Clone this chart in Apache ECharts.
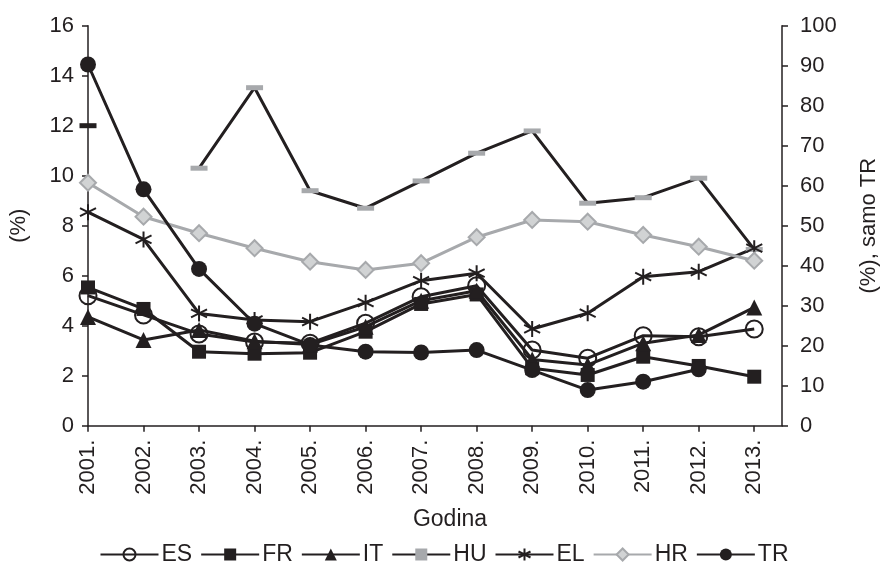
<!DOCTYPE html>
<html><head><meta charset="utf-8">
<script src="https://cdn.jsdelivr.net/npm/echarts@6/dist/echarts.min.js"></script>
<style>html,body{margin:0;padding:0;background:#fff}#c{width:888px;height:572px}</style>
</head><body><div id="c"></div>
<script>
var years = [2001,2002,2003,2004,2005,2006,2007,2008,2009,2010,2011,2012,2013];
var ES = [5.2, 4.43, 3.67, 3.35, 3.3, 4.1, 5.16, 5.6, 3.03, 2.7, 3.6, 3.56, 3.87];
var FR = [5.53, 4.67, 2.96, 2.88, 2.92, 3.76, 4.87, 5.25, 2.3, 2.03, 2.76, 2.39, 1.96];
var IT = [4.35, 3.43, 3.83, 3.38, 3.25, 3.96, 5.0, 5.4, 2.65, 2.43, 3.3, 3.63, 4.73];
var HU = [12.0, null, 10.3, 13.52, 9.4, 8.7, 9.79, 10.9, 11.79, 8.9, 9.12, 9.9, 7.05];
var EL = [8.54, 7.45, 4.49, 4.23, 4.16, 4.92, 5.8, 6.1, 3.87, 4.5, 5.96, 6.16, 7.1];
var HR = [9.72, 8.36, 7.7, 7.1, 6.56, 6.23, 6.5, 7.54, 8.23, 8.16, 7.63, 7.16, 6.6];
var TR = [90.3, 59.1, 39.2, 25.5, 20.2, 18.5, 18.3, 18.9, 13.9, 8.9, 11.0, 14.1, null];
var leftTicks = [0,2,4,6,8,10,12,14,16];
var rightTicks = [0,10,20,30,40,50,60,70,80,90,100];

var INK = '#231f20', GREY = '#a7a9ac', LGREY = '#d1d3d4';
var FONT = '"Liberation Sans", Arial, sans-serif';
function pairs(arr){ return years.map(function(y,i){ return [y, arr[i]]; }); }
var star = 'path://M0,-10L0,10M-8.66,-5L8.66,5M-8.66,5L8.66,-5';

function mk(name, arr, o){
  var s = {
    name: name, type: 'line', data: pairs(arr), yAxisIndex: 0,
    symbolSize: 14, showAllSymbol: true, connectNulls: false,
    lineStyle: {color: INK, width: 3},
    itemStyle: {color: INK, borderColor: INK, borderWidth: 0},
    emphasis: {disabled: true}, animation: false
  };
  for (var k in o) s[k] = o[k];
  return s;
}
var huData = pairs(HU);
huData[0] = {value: huData[0], itemStyle: {color: INK}};

var series = [
  mk('ES', ES, {symbol: 'circle', symbolSize: 17, itemStyle: {color: 'rgba(255,255,255,0)', borderColor: INK, borderWidth: 2}}),
  mk('FR', FR, {symbol: 'rect', symbolSize: 14}),
  mk('IT', IT, {symbol: 'triangle', symbolSize: 16}),
  mk('HU', HU, {symbol: 'rect', symbolSize: [17, 5], itemStyle: {color: GREY}}),
  mk('EL', EL, {symbol: star, symbolSize: 16, itemStyle: {color: INK, borderColor: INK, borderWidth: 2}}),
  mk('HR', HR, {symbol: 'diamond', symbolSize: 16, lineStyle: {color: GREY, width: 3}, itemStyle: {color: LGREY, borderColor: GREY, borderWidth: 2}}),
  mk('TR', TR, {symbol: 'circle', symbolSize: 16, yAxisIndex: 1})
];
series[3].data = huData;

var chart = echarts.init(document.getElementById('c'));
chart.setOption({
  backgroundColor: '#fff',
  textStyle: {fontFamily: FONT},
  grid: {left: 84, right: 94, top: 25.7, bottom: 146.3, containLabel: false},
  xAxis: {
    type: 'value', min: 2001, max: 2013.5, interval: 1,
    name: 'Godina', nameLocation: 'middle', nameGap: 82,
    nameTextStyle: {fontSize: 23, color: INK, fontFamily: FONT, padding: [0,0,0,30]},
    axisLine: {lineStyle: {color: INK, width: 1.5}},
    axisTick: {show: true, length: 6, lineStyle: {color: INK, width: 1.5}, customValues: years},
    axisLabel: {rotate: 90, margin: 14, fontSize: 22, color: INK, fontFamily: FONT,
      customValues: years, formatter: function(v){ return v + '.'; }},
    splitLine: {show: false}
  },
  yAxis: [{
    type: 'value', min: 0, max: 16, interval: 2, position: 'left',
    name: '(%)', nameLocation: 'middle', nameGap: 58, nameRotate: 90,
    nameTextStyle: {fontSize: 22, color: INK, fontFamily: FONT},
    axisLine: {show: true, lineStyle: {color: INK, width: 1.5}},
    axisTick: {show: true, length: 6, lineStyle: {color: INK, width: 1.5}},
    axisLabel: {margin: 14, fontSize: 22, color: INK, fontFamily: FONT},
    splitLine: {show: false}
  }, {
    type: 'value', min: 0, max: 100, interval: 10, position: 'right',
    name: '(%), samo TR', nameLocation: 'middle', nameGap: 76, nameRotate: 90,
    nameTextStyle: {fontSize: 22, color: INK, fontFamily: FONT},
    axisLine: {show: true, lineStyle: {color: INK, width: 1.5}},
    axisTick: {show: true, length: 6, lineStyle: {color: INK, width: 1.5}},
    axisLabel: {margin: 18, fontSize: 22, color: INK, fontFamily: FONT},
    splitLine: {show: false}
  }],
  legend: {
    bottom: 1, left: 'center', itemWidth: 58, itemHeight: 15, itemGap: 8,
    textStyle: {fontSize: 23, color: INK, fontFamily: FONT, padding: [0,0,0,-2]},
    data: ['ES','FR','IT','HU','EL','HR','TR']
  },
  series: series
});
</script></body></html>
